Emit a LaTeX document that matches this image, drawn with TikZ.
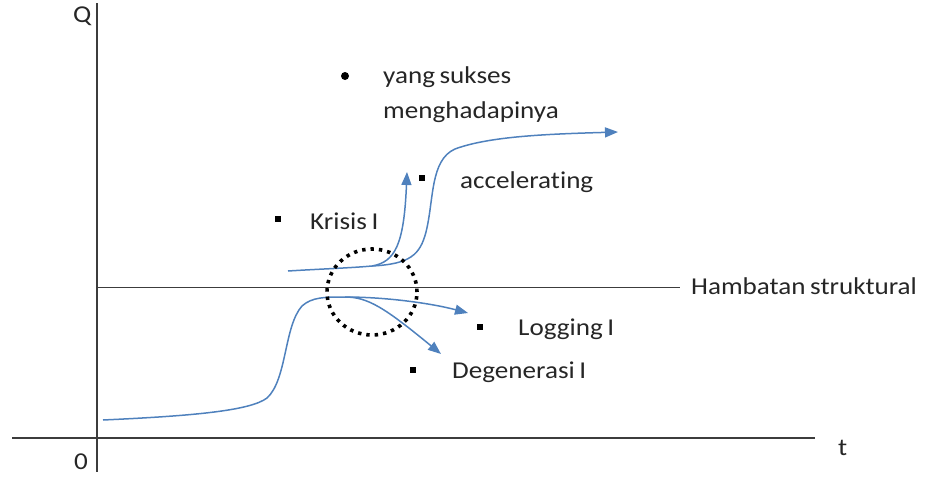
\documentclass[tikz,border=0pt]{standalone}
\usepackage{fontspec}
\setmainfont{Carlito}[FakeStretch=1.12,Ligatures=NoCommon,WordSpace=0.75]
\usetikzlibrary{arrows.meta}
\definecolor{curveblue}{RGB}{79,129,189}
\definecolor{axisgray}{RGB}{60,60,60}
\tikzset{
  axisline/.style={draw=axisgray,line width=1.2pt},
  barrier/.style={draw=axisgray,line width=0.9pt},
  curve/.style={draw=curveblue,line width=1.5pt},
  arrowcurve/.style={curve,-{Triangle[length=13pt,width=10pt]}},
  lbl/.style={anchor=west,inner sep=0pt,font=\fontsize{24.2}{28}\selectfont,text=black!85},
  sqbullet/.style={fill=black,minimum size=6pt,inner sep=0pt},
  rdbullet/.style={circle,fill=black,minimum size=8pt,inner sep=0pt},
  crisis/.style={draw=black,line width=3.6pt,dash pattern=on 3.4pt off 5pt}
}
\begin{document}
\begin{tikzpicture}[x=1pt,y=-1pt]
\useasboundingbox (0,0) rectangle (927,479);
% axes
\coordinate (yt) at (97,3);
\coordinate (yb) at (97,472);
\coordinate (xl) at (12,438);
\coordinate (xr) at (815,438);
\draw[axisline] (yt) -- (yb);
\draw[axisline] (xl) -- (xr);
\node[lbl] (Q) at (73,16) {Q};
\node[lbl] (zero) at (74,462) {0};
\node[lbl] (t) at (838,448) {t};
% structural barrier
\coordinate (hl) at (97,287);
\coordinate (hr) at (680,287);
\draw[barrier] (hl) -- (hr);
\node[lbl] (ham) at (691,286) {Hambatan struktural};
% lower curve
\coordinate (lstart) at (103,420);
\coordinate (ltop) at (345,297);
\coordinate (logtip) at (468,313);
\coordinate (degtip) at (441,354);
\draw[curve] (lstart) .. controls (190,416) and (250,411) .. (267,398)
  .. controls (287,380) and (284,326) .. (302,306)
  .. controls (312,297) and (325,297) .. (ltop);
\draw[arrowcurve] (ltop) .. controls (385,297) and (430,303) .. (logtip);
\draw[arrowcurve] (ltop) .. controls (368,297) and (385,308) .. (degtip);
% upper curve
\coordinate (ustart) at (288,271);
\coordinate (ubr) at (372,266);
\coordinate (acctip) at (407,172);
\coordinate (suctip) at (618,132);
\draw[curve] (ustart) .. controls (320,269) and (350,268) .. (ubr);
\draw[arrowcurve] (ubr) .. controls (395,262) and (404,245) .. (acctip);
\draw[arrowcurve] (ubr) .. controls (410,264) and (420,255) .. (426,232)
  .. controls (434,200) and (430,160) .. (455,149)
  .. controls (490,136) and (550,134) .. (suctip);
% crisis circle
\draw[crisis] (372,292) ellipse (45pt and 43pt);
% labels
\node[rdbullet] (b1) at (345,76) {};
\node[lbl] (yang) at (383,77) {yang sukses};
\node[lbl] (meng) at (383,112) {menghadapinya};
\node[sqbullet] (b2) at (422,178) {};
\node[lbl] (acc) at (460,182) {accelerating};
\node[sqbullet] (b3) at (278,219) {};
\node[lbl] (kri) at (310,221) {Krisis I};
\node[sqbullet] (b4) at (480,327) {};
\node[lbl] (log) at (518,329) {Logging I};
\node[sqbullet] (b5) at (413,370) {};
\node[lbl] (deg) at (452,372) {Degenerasi I};
\end{tikzpicture}
\end{document}
